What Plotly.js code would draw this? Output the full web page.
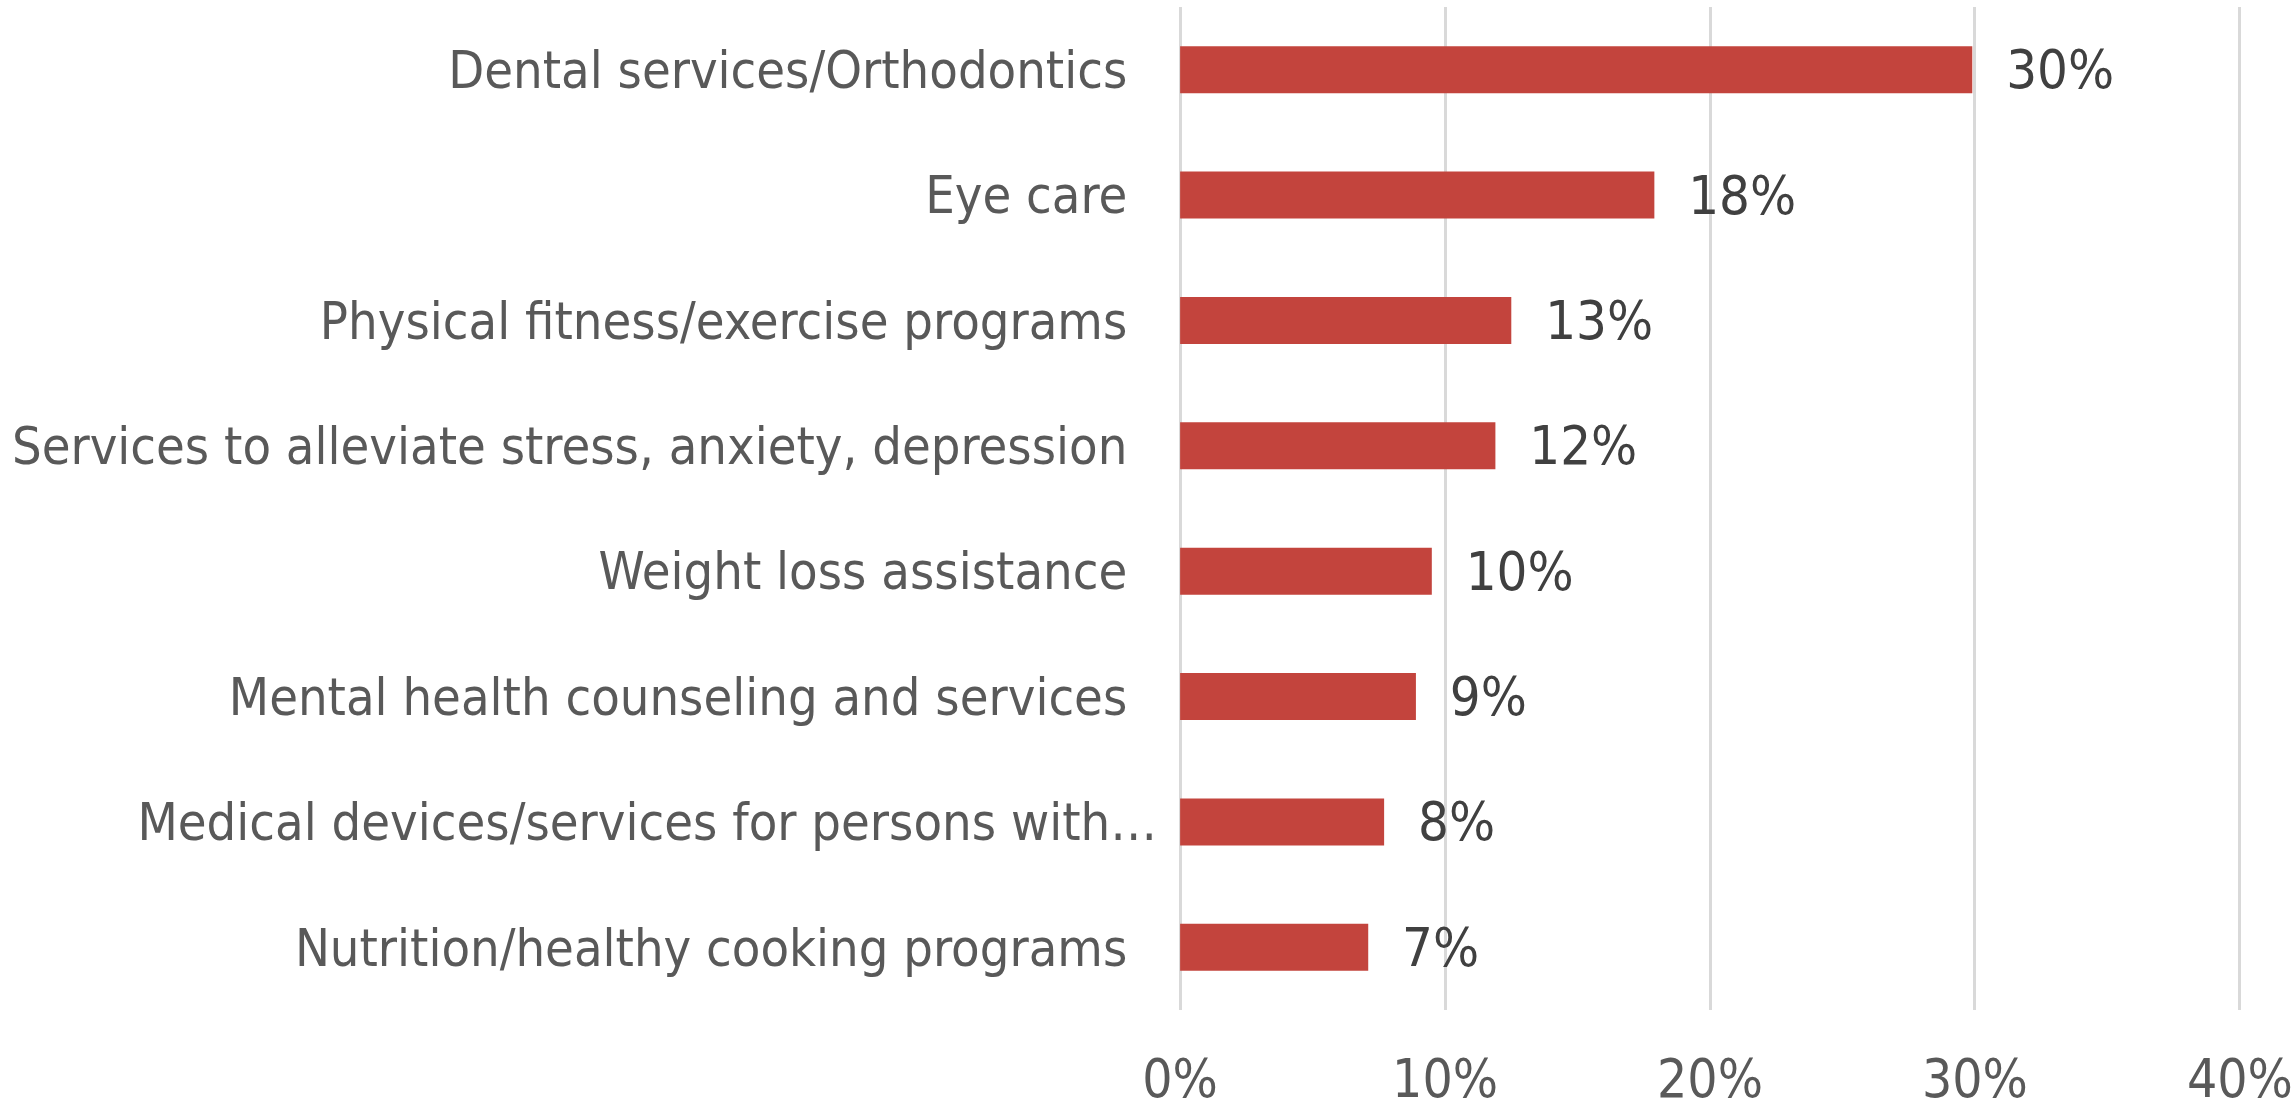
<!DOCTYPE html>
<html>
<head>
<meta charset="utf-8">
<script src="https://cdn.plot.ly/plotly-3.0.1.min.js"></script>
<style>html,body{margin:0;padding:0;background:#fff;}#chart{width:2295px;height:1112px;}</style>
</head>
<body>
<div id="chart"></div>
<script>
const categories = [
  "Dental services/Orthodontics\u00a0\u00a0",
  "Eye care\u00a0\u00a0",
  "Physical fitness/exercise programs\u00a0\u00a0",
  "Services to alleviate stress, anxiety, depression\u00a0\u00a0",
  "Weight loss assistance\u00a0\u00a0",
  "Mental health counseling and services\u00a0\u00a0",
  "Medical devices/services for persons with\u2026",
  "Nutrition/healthy cooking programs\u00a0\u00a0"
];
const values = [0.299, 0.179, 0.125, 0.119, 0.095, 0.089, 0.077, 0.071];
const valueLabels = ["30%", "18%", "13%", "12%", "10%", "9%", "8%", "7%"];
const xTickVals = [0, 0.1, 0.2, 0.3, 0.4];
const xTickText = ["0%", "10%", "20%", "30%", "40%"];

const FONT = '"Liberation Sans Narrow", "DejaVu Sans Condensed", "Open Sans", sans-serif';

const trace = {
  type: 'bar',
  orientation: 'h',
  x: values,
  y: categories,
  marker: {color: '#c3443d'},
  text: valueLabels.map(s => '\u00a0\u00a0' + s),
  textposition: 'outside',
  constraintext: 'none',
  cliponaxis: false,
  textfont: {family: FONT, size: 54, color: '#404040'},
  hoverinfo: 'none'
};

const layout = {
  width: 2295,
  height: 1112,
  margin: {l: 1178, r: 53, t: 7, b: 102},
  paper_bgcolor: '#ffffff',
  plot_bgcolor: '#ffffff',
  showlegend: false,
  bargap: 0.625,
  font: {family: FONT, size: 52, color: '#595959'},
  xaxis: {
    range: [-0.0008, 0.4008],
    tickvals: xTickVals,
    ticktext: xTickText,
    showgrid: true,
    gridcolor: '#d9d9d9',
    gridwidth: 3,
    zeroline: false,
    showline: false,
    ticks: '',
    ticklabelstandoff: 33,
    tickfont: {family: FONT, size: 53, color: '#595959'},
    fixedrange: true
  },
  yaxis: {
    autorange: 'reversed',
    type: 'category',
    showgrid: false,
    zeroline: false,
    showline: false,
    ticks: '',
    ticklabelstandoff: 20,
    automargin: false,
    tickfont: {family: FONT, size: 52, color: '#595959'},
    fixedrange: true
  }
};

Plotly.newPlot('chart', [trace], layout, {displayModeBar: false, staticPlot: true});
</script>
</body>
</html>
